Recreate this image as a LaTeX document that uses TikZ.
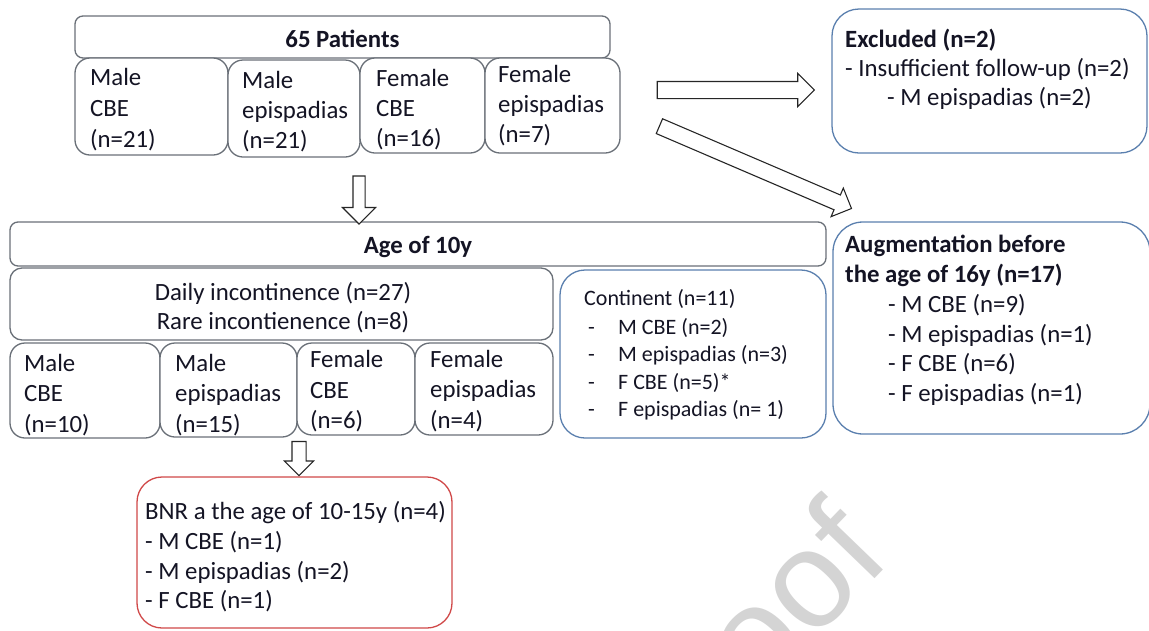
\documentclass[tikz,border=0pt]{standalone}
\usepackage{fontspec}
\setmainfont{Carlito}
\newfontfamily\wmfont{Liberation Sans}
\usetikzlibrary{shapes.arrows}
\definecolor{txt}{HTML}{141424}
\definecolor{gline}{HTML}{6A7078}
\definecolor{bline}{HTML}{5A7FAE}
\definecolor{rline}{HTML}{D04848}
\definecolor{wmc}{HTML}{D4D4D4}
\begin{document}
\begin{tikzpicture}[x=1pt,y=-1pt,
 box/.style={draw=gline, line width=1.3pt, fill=white, inner sep=0pt, rounded corners=15pt},
 bbox/.style={box, draw=bline, rounded corners=27pt},
 rbox/.style={box, draw=rline, rounded corners=25pt},
 hbox/.style={box, rounded corners=8pt},
 tx/.style={text=txt, font=\fontsize{24.8}{30}\selectfont, inner sep=0pt, anchor=base west},
 txb/.style={tx, font=\fontsize{24.8}{30}\selectfont\bfseries},
 txs/.style={tx, font=\fontsize{22}{28}\selectfont},
 barrow/.style={shape=single arrow, draw=black!85, line width=1.1pt, fill=white, inner xsep=0pt, single arrow tip angle=90, single arrow head indent=0pt}
]
\useasboundingbox (0,0) rectangle (1149,630);
\clip (0,0) rectangle (1149,630);

% watermark
\node[text=wmc, font=\wmfont\fontsize{138}{138}\selectfont, rotate=46, anchor=base east, inner sep=0pt] (wm) at (893,560) {Proof};

% top block
\node[hbox, minimum width=535, minimum height=42] (pat) at (342.5,37) {};
\node[txb, anchor=base] (patT) at (342.5,47) {65 Patients};
\node[box, minimum width=153, minimum height=97] (t1) at (151.5,106.5) {};
\node[box, minimum width=132, minimum height=97] (t2) at (294,108.5) {};
\node[box, minimum width=125, minimum height=95] (t3) at (422.5,105.5) {};
\node[box, minimum width=135, minimum height=95] (t4) at (552.5,105.5) {};
\node[tx] (t1a) at (90,85) {Male};
\node[tx] (t1b) at (90,116) {CBE};
\node[tx] (t1c) at (90,147) {(n=21)};
\node[tx] (t2a) at (242,88) {Male};
\node[tx] (t2b) at (242,118) {epispadias};
\node[tx] (t2c) at (242,148) {(n=21)};
\node[tx] (t3a) at (376,86) {Female};
\node[tx] (t3b) at (376,116) {CBE};
\node[tx] (t3c) at (376,146) {(n=16)};
\node[tx] (t4a) at (498,82) {Female};
\node[tx] (t4b) at (498,112) {epispadias};
\node[tx] (t4c) at (498,142) {(n=7)};

% excluded
\node[bbox, minimum width=315, minimum height=144] (ex) at (989.5,81) {};
\node[txb] (exa) at (845,47) {Excluded (n=2)};
\node[tx] (exb) at (845,76) {- Insufficient follow-up (n=2)};
\node[tx] (exc) at (887,105) {- M epispadias (n=2)};

% age block
\node[hbox, minimum width=816, minimum height=44] (age) at (418,244) {};
\node[txb, anchor=base] (ageT) at (418,253) {Age of 10y};
\node[box, rounded corners=12pt, minimum width=543, minimum height=72] (daily) at (281.5,304) {};
\node[tx, anchor=base] (dA) at (283,300) {Daily incontinence (n=27)};
\node[tx, anchor=base] (dB) at (283,329) {Rare incontienence (n=8)};
\node[box, minimum width=150, minimum height=95] (b1) at (85,390.5) {};
\node[box, minimum width=137, minimum height=94] (b2) at (228.5,390) {};
\node[box, minimum width=118, minimum height=92] (b3) at (356,389) {};
\node[box, minimum width=138, minimum height=92] (b4) at (484,389) {};
\node[tx] (b1a) at (24,371) {Male};
\node[tx] (b1b) at (24,401) {CBE};
\node[tx] (b1c) at (24,432) {(n=10)};
\node[tx] (b2a) at (175,371) {Male};
\node[tx] (b2b) at (175,401) {epispadias};
\node[tx] (b2c) at (175,432) {(n=15)};
\node[tx] (b3a) at (310,367) {Female};
\node[tx] (b3b) at (310,398) {CBE};
\node[tx] (b3c) at (310,428) {(n=6)};
\node[tx] (b4a) at (430,367) {Female};
\node[tx] (b4b) at (430,397) {epispadias};
\node[tx] (b4c) at (430,428) {(n=4)};

% continent
\node[bbox, rounded corners=25pt, minimum width=266, minimum height=168] (cont) at (693,354) {};
\node[txs] (ca) at (584,305) {Continent (n=11)};
\node[txs] (cb) at (588,334) {\makebox[30pt][l]{-}M CBE (n=2)};
\node[txs] (cc) at (588,361) {\makebox[30pt][l]{-}M epispadias (n=3)};
\node[txs] (cd) at (588,389) {\makebox[30pt][l]{-}F CBE (n=5)*};
\node[txs] (ce) at (588,416) {\makebox[30pt][l]{-}F epispadias (n= 1)};

% augmentation
\node[bbox, rounded corners=30pt, minimum width=317, minimum height=212] (aug) at (991.5,328) {};
\node[txb] (aa) at (845,252) {Augmentation before};
\node[txb] (ab) at (845,282) {the age of 16y (n=17)};
\node[tx] (ac) at (888,312) {- M CBE (n=9)};
\node[tx] (ad) at (888,342) {- M epispadias (n=1)};
\node[tx] (ae) at (888,371) {- F CBE (n=6)};
\node[tx] (af) at (888,401) {- F epispadias (n=1)};

% BNR
\node[rbox, minimum width=315, minimum height=151] (bnr) at (294.5,552.5) {};
\node[tx] (ra) at (145,519) {BNR a the age of 10-15y (n=4)};
\node[tx] (rb) at (145,549) {- M CBE (n=1)};
\node[tx] (rc) at (145,579) {- M epispadias (n=2)};
\node[tx] (rd) at (145,608) {- F CBE (n=1)};

% block arrows
\node[barrow, minimum height=48, inner ysep=5.5, single arrow head extend=10.5, rotate=-90] (a1) at (359,197) {};
\node[barrow, minimum height=157, inner ysep=8, single arrow head extend=8] (a2) at (731.5,90) {};
\node[barrow, minimum height=209, inner ysep=7.5, single arrow head extend=7.5, rotate=-23.2] (a3) at (751.75,165.75) {};
\node[barrow, minimum height=34, inner ysep=6.5, single arrow head extend=7.5, rotate=-90] (a4) at (299,455) {};
\end{tikzpicture}
\end{document}
